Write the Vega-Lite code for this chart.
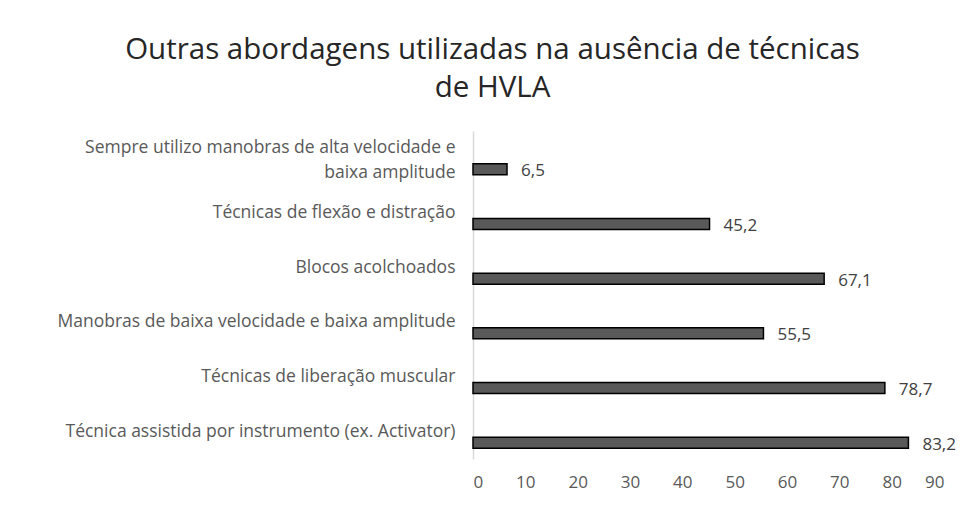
{
  "$schema": "https://vega.github.io/schema/vega-lite/v6.json",
  "autosize": "none",
  "width": 471,
  "height": 328,
  "padding": {"left": 473, "top": 131, "right": 27, "bottom": 47},
  "background": "white",
  "title": {
    "text": ["Outras abordagens utilizadas na ausência de técnicas", "de HVLA"],
    "anchor": "middle",
    "dx": -216,
    "offset": 28,
    "fontSize": 29.5,
    "lineHeight": 38,
    "font": "Open Sans",
    "fontWeight": "normal",
    "color": "#262626"
  },
  "config": {
    "locale": {"number": {"decimal": ",", "thousands": ".", "grouping": [3], "currency": ["", "€"]}},
    "view": {"stroke": null},
    "font": "Open Sans"
  },
  "data": {
    "values": [
      {"abordagem": "Sempre utilizo manobras de alta velocidade e baixa amplitude", "valor": 6.5},
      {"abordagem": "Técnicas de flexão e distração", "valor": 45.2},
      {"abordagem": "Blocos acolchoados", "valor": 67.1},
      {"abordagem": "Manobras de baixa velocidade e baixa amplitude", "valor": 55.5},
      {"abordagem": "Técnicas de liberação muscular", "valor": 78.7},
      {"abordagem": "Técnica assistida por instrumento (ex. Activator)", "valor": 83.2}
    ]
  },
  "encoding": {
    "y": {
      "field": "abordagem",
      "type": "nominal",
      "sort": null,
      "scale": {"paddingInner": 0, "paddingOuter": 0},
      "axis": {
        "title": null,
        "ticks": false,
        "domainColor": "#d9d9d9",
        "domainWidth": 1.5,
        "labelFontSize": 17.5,
        "labelColor": "#595959",
        "labelPadding": 18,
        "labelLimit": 500,
        "labelLineHeight": 25,
        "labelOffset": {"condition": {"test": "datum.value == 'Sempre utilizo manobras de alta velocidade e baixa amplitude'", "value": -10}, "value": 0},
        "labelExpr": "datum.value == 'Sempre utilizo manobras de alta velocidade e baixa amplitude' ? ['Sempre utilizo manobras de alta velocidade e', 'baixa amplitude'] : datum.value"
      }
    },
    "x": {
      "field": "valor",
      "type": "quantitative",
      "scale": {"domain": [0, 90], "nice": false},
      "axis": {
        "title": null,
        "domain": false,
        "ticks": false,
        "grid": false,
        "values": [0, 10, 20, 30, 40, 50, 60, 70, 80, 90],
        "format": "d",
        "labelFontSize": 17,
        "labelColor": "#595959",
        "labelPadding": 15
      }
    }
  },
  "layer": [
    {
      "mark": {"type": "bar", "fill": "#595959", "stroke": "#000000", "strokeWidth": 1.5, "height": 11, "yOffset": 11}
    },
    {
      "mark": {"type": "text", "align": "left", "baseline": "middle", "dx": 14, "yOffset": 13, "fontSize": 17, "color": "#404040"},
      "encoding": {"text": {"field": "valor", "type": "quantitative", "format": ".1f"}}
    }
  ]
}
